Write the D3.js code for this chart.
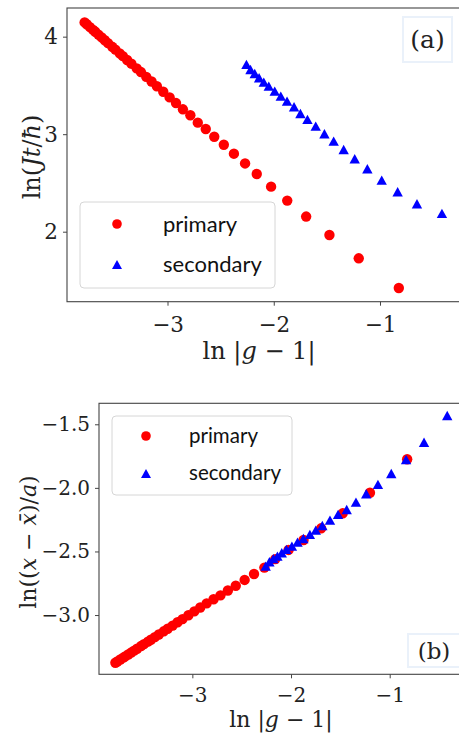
<!DOCTYPE html>
<html>
<head>
<meta charset="utf-8">
<script src="https://cdn.jsdelivr.net/npm/d3@7"></script>
<style>
  body { margin: 0; background: #fff; overflow: hidden; }
  svg { display: block; }
</style>
</head>
<body>
<div id="chart"></div>
<script>

// shared abscissa ln|g-1|
var primaryX = [-3.78, -3.76, -3.73, -3.70, -3.68, -3.65, -3.62, -3.59, -3.56, -3.52, -3.49, -3.45, -3.42,
    -3.38, -3.34, -3.29, -3.25, -3.20, -3.15, -3.10, -3.04, -2.98, -2.92, -2.855, -2.785, -2.715, -2.64,
    -2.56, -2.47, -2.375, -2.27, -2.16, -2.025, -1.873, -1.695, -1.476, -1.20, -0.823];
var secondaryX = [-2.257, -2.219, -2.179, -2.138, -2.094, -2.047, -1.991, -1.934, -1.875, -1.809, -1.749,
    -1.683, -1.605, -1.523, -1.436, -1.342, -1.238, -1.119, -0.984, -0.834, -0.652, -0.417];

// panel (a): ln(Jt/hbar)
var primaryA = [4.146, 4.127, 4.098, 4.069, 4.050, 4.021, 3.992, 3.963, 3.934, 3.896, 3.867, 3.829, 3.800,
    3.761, 3.723, 3.675, 3.637, 3.588, 3.540, 3.492, 3.435, 3.377, 3.319, 3.255, 3.194, 3.118, 3.053,
    2.974, 2.892, 2.800, 2.700, 2.592, 2.462, 2.319, 2.155, 1.966, 1.727, 1.422];
var secondaryA = [3.710, 3.658, 3.617, 3.573, 3.528, 3.487, 3.436, 3.385, 3.333, 3.276, 3.207, 3.146,
    3.077, 2.999, 2.923, 2.838, 2.743, 2.640, 2.523, 2.404, 2.281, 2.182];

// panel (b): ln((x - xbar)/a)
var primaryB = [-3.375, -3.365, -3.350, -3.335, -3.325, -3.310, -3.295, -3.280, -3.265, -3.244, -3.229,
    -3.209, -3.194, -3.174, -3.153, -3.128, -3.108, -3.083, -3.057, -3.032, -3.002, -2.971, -2.941,
    -2.908, -2.876, -2.845, -2.807, -2.770, -2.724, -2.677, -2.627, -2.560, -2.488, -2.410, -2.318,
    -2.200, -2.038, -1.775];
var secondaryB = [-2.620, -2.585, -2.561, -2.541, -2.514, -2.488, -2.462, -2.431, -2.402, -2.370, -2.336,
    -2.300, -2.258, -2.213, -2.174, -2.116, -2.050, -1.977, -1.891, -1.781, -1.645, -1.435];

var xTicks = [-3, -2, -1];
var yTicksA = [2, 3, 4];
var yTicksB = [-3.0, -2.5, -2.0, -1.5];
var seriesNames = ["primary", "secondary"];

var serif = "'DejaVu Serif', 'Liberation Serif', serif";
var sans = "Lato, 'Open Sans', sans-serif";

var svg = d3.select("#chart").append("svg")
    .attr("width", 459)
    .attr("height", 733);

function zip(xs, ys) {
    return xs.map(function(x, i) { return {x: x, y: ys[i]}; });
}

// matplotlib style "^" marker (as wide as it is tall)
function triangle(s) {
    return "M0," + (-s) + "L" + s + "," + (s * 0.8) + "L" + (-s) + "," + (s * 0.8) + "Z";
}

/*
 * Panel - one scatter panel
 */
Panel = function(_opts) {
    this.opts = _opts;
    this.initVis();
};

Panel.prototype.initVis = function() {
    var vis = this;
    var o = vis.opts;

    vis.x = d3.scaleLinear().domain([-3.946, -0.247]).range([o.left, o.right]);
    vis.y = d3.scaleLinear().domain(o.yDomain).range([o.bottom, o.top]);

    vis.g = svg.append("g");

    // frame
    vis.g.append("rect")
        .attr("x", o.left).attr("y", o.top)
        .attr("width", o.right - o.left).attr("height", o.bottom - o.top)
        .attr("fill", "none")
        .attr("stroke", "#444")
        .attr("stroke-width", 1.1);

    var xAxis = d3.axisBottom(vis.x).tickValues(xTicks).tickSize(4).tickPadding(o.xPad)
        .tickFormat(d3.format("d"));
    var yAxis = d3.axisLeft(vis.y).tickValues(o.yTicks).tickSize(4).tickPadding(o.yPad)
        .tickFormat(d3.format(o.yFormat));

    vis.g.append("g")
        .attr("transform", "translate(0," + o.bottom + ")")
        .call(xAxis);
    vis.g.append("g")
        .attr("transform", "translate(" + o.left + ",0)")
        .call(yAxis);

    vis.g.selectAll(".domain").remove();
    vis.g.selectAll(".tick line").attr("stroke", "#444").attr("stroke-width", 1);
    vis.g.selectAll(".tick text")
        .attr("fill", "#222")
        .style("font-family", serif)
        .style("font-size", o.tickFont + "px");

    // axis titles
    vis.g.append("text")
        .attr("x", o.xLabelX).attr("y", o.xLabelY)
        .attr("text-anchor", "middle")
        .style("font-family", serif).style("font-size", o.labelFont + "px")
        .attr("fill", "#222")
        .html("ln |<tspan font-style='italic'>g</tspan> − 1|");

    vis.g.append("text")
        .attr("transform", "translate(" + o.yLabelX + "," + o.yLabelY + ") rotate(-90)")
        .attr("text-anchor", "middle")
        .style("font-family", serif).style("font-size", o.labelFont + "px")
        .attr("fill", "#222")
        .html(o.yLabel);

    vis.updateVis();
};

Panel.prototype.updateVis = function() {
    var vis = this;
    var o = vis.opts;

    vis.g.selectAll("circle.pt")
        .data(zip(primaryX, o.primary))
        .enter().append("circle")
        .attr("class", "pt")
        .attr("cx", function(d) { return vis.x(d.x); })
        .attr("cy", function(d) { return vis.y(d.y); })
        .attr("r", 5.2)
        .attr("fill", "#ff0000");

    vis.g.selectAll("path.tri")
        .data(zip(secondaryX, o.secondary))
        .enter().append("path")
        .attr("class", "tri")
        .attr("d", triangle(5.2))
        .attr("transform", function(d) { return "translate(" + vis.x(d.x) + "," + vis.y(d.y) + ")"; })
        .attr("fill", "#0000ff");

    // legend
    var L = o.legend;
    var lg = vis.g.append("g");
    lg.append("rect")
        .attr("x", L.x).attr("y", L.y).attr("width", L.w).attr("height", L.h)
        .attr("rx", 4)
        .attr("fill", "rgba(255,255,255,0.8)")
        .attr("stroke", "#d6d6d6");
    seriesNames.forEach(function(name, i) {
        var cy = L.y + L.row0 + i * L.step;
        if (i === 0) {
            lg.append("circle").attr("cx", L.mx).attr("cy", cy).attr("r", 4.8).attr("fill", "#ff0000");
        } else {
            lg.append("path").attr("d", triangle(5))
                .attr("transform", "translate(" + L.mx + "," + (cy + 1) + ")")
                .attr("fill", "#0000ff");
        }
        lg.append("text")
            .attr("x", L.tx).attr("y", cy)
            .attr("dy", "0.35em")
            .style("font-family", sans).style("font-size", L.font + "px")
            .attr("fill", "#111")
            .text(name);
    });

    // panel tag
    var T = o.tag;
    vis.g.append("rect")
        .attr("x", T.x).attr("y", T.y).attr("width", T.w).attr("height", T.h)
        .attr("fill", "#fff")
        .attr("stroke", "#eaf1fa")
        .attr("stroke-width", 2);
    vis.g.append("text")
        .attr("x", T.x + T.w / 2).attr("y", T.y + T.h / 2)
        .attr("dy", "0.35em")
        .attr("text-anchor", "middle")
        .style("font-family", serif).style("font-size", T.font + "px")
        .attr("fill", "#222")
        .text(T.text);
};

new Panel({
    left: 67, right: 460, top: 8, bottom: 301.7,
    yDomain: [1.282, 4.294],
    yTicks: yTicksA, yFormat: "d",
    primary: primaryA, secondary: secondaryA,
    xPad: 11, yPad: 5, tickFont: 21.5, labelFont: 24,
    xLabelX: 259, xLabelY: 359,
    yLabelX: 40, yLabelY: 157,
    yLabel: "ln(<tspan font-style='italic'>Jt</tspan>/<tspan font-style='italic'>ħ</tspan>)",
    legend: {x: 80, y: 202, w: 195, h: 86, row0: 22, step: 40, mx: 117, tx: 163, font: 22},
    tag: {x: 403, y: 17, w: 49, h: 45, font: 25, text: "(a)"}
});

new Panel({
    left: 99, right: 464, top: 403.3, bottom: 674.3,
    yDomain: [-3.466, -1.335],
    yTicks: yTicksB, yFormat: ".1f",
    primary: primaryB, secondary: secondaryB,
    xPad: 10, yPad: 5, tickFont: 20, labelFont: 22,
    xLabelX: 281, xLabelY: 727,
    yLabelX: 36, yLabelY: 542,
    yLabel: "ln((<tspan font-style='italic'>x</tspan> − <tspan font-style='italic'>x̄</tspan>)/<tspan font-style='italic'>a</tspan>)",
    legend: {x: 112, y: 416, w: 180, h: 79, row0: 20, step: 37, mx: 146, tx: 189, font: 20.5},
    tag: {x: 408, y: 634, w: 52, h: 33, font: 23, text: "(b)"}
});

</script>
</body>
</html>
